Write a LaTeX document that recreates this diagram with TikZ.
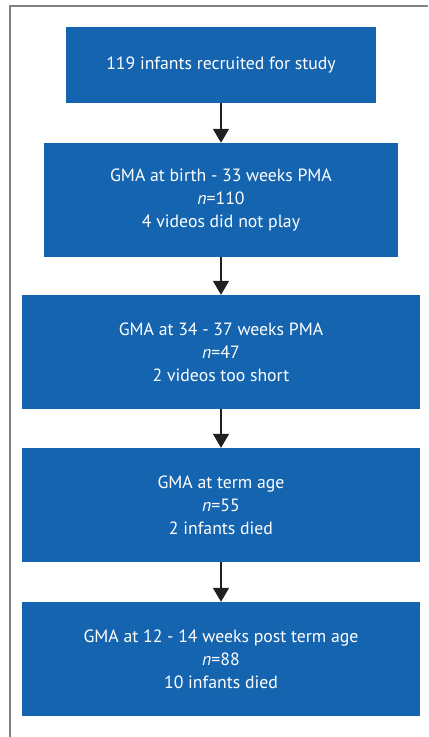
\documentclass[tikz,border=0pt]{standalone}
\usepackage{fontspec}
\setmainfont{PT Sans}
\usetikzlibrary{arrows.meta}
\definecolor{boxblue}{RGB}{21,100,175}
\definecolor{arrowdark}{RGB}{35,31,32}
\definecolor{framegray}{RGB}{128,128,128}
\begin{document}
\begin{tikzpicture}[x=1bp,y=-1bp,
  flowbox/.style={fill=boxblue,draw=none,text=white,align=center,inner sep=0pt,
    font=\fontsize{17.8}{23}\selectfont},
  flowarrow/.style={draw=arrowdark,line width=1.5bp,-{Triangle[length=14bp,width=16bp]}}]
\useasboundingbox (0,0) rectangle (428,737);
\draw[framegray,line width=1.5bp] (10,737) -- (10,6) -- (428,6);
\node[flowbox,minimum width=310bp,minimum height=76bp] (b1) at (221,65) {119 infants recruited for study};
\node[flowbox,minimum width=354bp,minimum height=114bp] (b2) at (221,200) {GMA at birth - 33 weeks PMA\\\textit{n}=110\\4 videos did not play};
\node[flowbox,minimum width=398bp,minimum height=114bp] (b3) at (221,352) {GMA at 34 - 37 weeks PMA\\\textit{n}=47\\2 videos too short};
\node[flowbox,minimum width=398bp,minimum height=114bp] (b4) at (221,505) {GMA at term age\\\textit{n}=55\\2 infants died};
\node[flowbox,minimum width=398bp,minimum height=114bp] (b5) at (221,659) {GMA at 12 - 14 weeks post term age\\\textit{n}=88\\10 infants died};
\draw[flowarrow] (b1) -- (b2);
\draw[flowarrow] (b2) -- (b3);
\draw[flowarrow] (b3) -- (b4);
\draw[flowarrow] (b4) -- (b5);
\end{tikzpicture}
\end{document}
